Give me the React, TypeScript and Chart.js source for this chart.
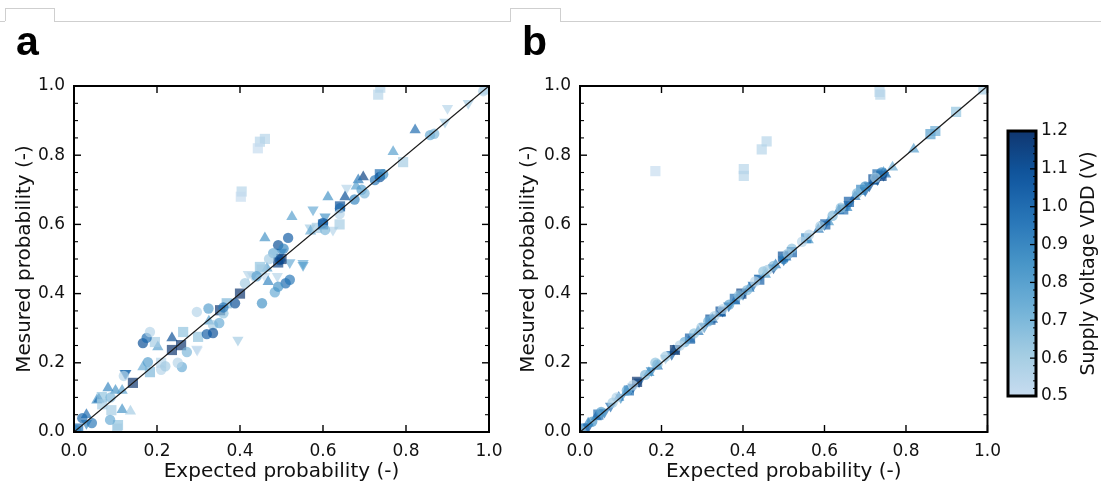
import { useEffect, useRef } from 'react';
import { Chart, registerables } from 'chart.js';
Chart.register(...registerables);

// ---------- data ----------
// each point: [expected probability, measured probability, supply voltage VDD]
const aCircles = [
  [0.986, 0.985, 0.55], [0.858, 0.858, 0.75], [0.868, 0.862, 0.7], [0.737, 0.737, 1.1],
  [0.725, 0.728, 0.95], [0.745, 0.745, 0.85], [0.693, 0.7, 0.8], [0.676, 0.672, 0.9],
  [0.641, 0.647, 1.0], [0.6, 0.604, 1.05], [0.605, 0.584, 0.7], [0.516, 0.561, 1.05],
  [0.492, 0.54, 1.1], [0.48, 0.517, 0.75], [0.496, 0.497, 1.1], [0.51, 0.43, 1.0],
  [0.52, 0.44, 0.95], [0.484, 0.404, 0.75], [0.492, 0.42, 0.85], [0.453, 0.372, 0.85],
  [0.412, 0.43, 0.6], [0.388, 0.372, 1.1], [0.324, 0.357, 0.8], [0.296, 0.347, 0.55],
  [0.36, 0.343, 0.65], [0.335, 0.309, 0.6], [0.35, 0.315, 0.75], [0.335, 0.286, 1.1],
  [0.32, 0.283, 1.05], [0.272, 0.231, 0.7], [0.166, 0.257, 1.1], [0.175, 0.272, 1.0],
  [0.183, 0.289, 0.55], [0.178, 0.202, 0.8], [0.21, 0.18, 0.55], [0.22, 0.19, 0.6],
  [0.26, 0.188, 0.75], [0.25, 0.2, 0.55], [0.12, 0.162, 0.55], [0.087, 0.035, 0.75],
  [0.043, 0.026, 0.95], [0.02, 0.04, 1.0], [0.088, 0.1, 0.7], [0.005, 0.005, 0.9],
  [0.36, 0.36, 0.95], [0.44, 0.45, 0.8], [0.47, 0.5, 0.6], [0.505, 0.53, 0.9],
  [0.7, 0.69, 0.7], [0.64, 0.63, 0.55],
];
const aSquares = [
  [0.733, 0.975, 0.55], [0.738, 0.995, 0.55], [0.448, 0.839, 0.55], [0.46, 0.847, 0.55],
  [0.443, 0.82, 0.5], [0.404, 0.695, 0.55], [0.402, 0.68, 0.5], [0.99, 0.99, 0.6],
  [0.793, 0.78, 0.6], [0.737, 0.745, 1.0], [0.641, 0.652, 1.1], [0.64, 0.6, 0.6],
  [0.585, 0.59, 0.6], [0.448, 0.477, 0.65], [0.452, 0.47, 0.6], [0.492, 0.49, 1.15],
  [0.5, 0.5, 1.2], [0.4, 0.4, 1.2], [0.368, 0.372, 0.7], [0.352, 0.352, 1.2],
  [0.299, 0.275, 0.65], [0.263, 0.289, 0.65], [0.258, 0.251, 1.2], [0.236, 0.237, 1.2],
  [0.195, 0.26, 0.6], [0.183, 0.173, 0.7], [0.21, 0.2, 0.55], [0.142, 0.142, 1.2],
  [0.067, 0.101, 0.65], [0.09, 0.063, 0.6], [0.068, 0.08, 0.6], [0.106, 0.02, 0.65],
  [0.104, 0.01, 0.6], [0.01, 0.01, 1.0], [0.6, 0.6, 1.0],
];
const aTriUp = [
  [0.822, 0.873, 1.0], [0.769, 0.81, 0.8], [0.697, 0.737, 1.15], [0.685, 0.728, 0.95],
  [0.68, 0.71, 0.8], [0.653, 0.679, 1.1], [0.612, 0.679, 0.85], [0.525, 0.622, 0.8],
  [0.46, 0.561, 0.85], [0.465, 0.473, 0.8], [0.468, 0.434, 0.9], [0.236, 0.272, 1.1],
  [0.202, 0.246, 0.8], [0.166, 0.188, 0.75], [0.082, 0.127, 0.9], [0.1, 0.12, 0.85],
  [0.116, 0.12, 0.8], [0.055, 0.092, 0.85], [0.06, 0.095, 1.0], [0.116, 0.064, 0.85],
  [0.136, 0.06, 0.6], [0.03, 0.05, 1.0], [0.325, 0.32, 0.8], [0.57, 0.58, 0.75],
];
const aTriDown = [
  [0.9, 0.936, 0.55], [0.95, 0.95, 0.6], [0.894, 0.896, 0.6], [0.657, 0.705, 0.55],
  [0.576, 0.642, 0.75], [0.605, 0.622, 0.85], [0.624, 0.584, 0.55], [0.569, 0.59, 0.6],
  [0.552, 0.488, 0.75], [0.552, 0.482, 0.8], [0.42, 0.456, 0.55], [0.43, 0.452, 0.55],
  [0.46, 0.45, 0.5], [0.49, 0.45, 0.55], [0.395, 0.266, 0.6], [0.296, 0.24, 0.55],
  [0.297, 0.237, 0.5], [0.125, 0.17, 1.05], [0.123, 0.17, 0.95], [0.5, 0.52, 0.9],
  [0.52, 0.49, 0.75], [0.03, 0.025, 0.9],
];

const bSquares = [
  [0.735, 0.983, 0.55], [0.737, 0.975, 0.55], [0.185, 0.754, 0.5], [0.402, 0.76, 0.55],
  [0.402, 0.74, 0.55], [0.446, 0.817, 0.55], [0.458, 0.84, 0.55], [0.923, 0.925, 0.65],
  [0.86, 0.861, 0.8], [0.872, 0.87, 0.75], [0.99, 0.99, 0.6], [0.73, 0.745, 1.0],
  [0.602, 0.6, 1.05], [0.498, 0.507, 1.1], [0.396, 0.4, 1.15], [0.345, 0.348, 1.1],
  [0.233, 0.237, 1.2], [0.14, 0.145, 1.2], [0.646, 0.643, 1.0], [0.69, 0.7, 0.9],
  [0.01, 0.01, 0.95], [0.045, 0.05, 1.0], [0.12, 0.12, 1.0], [0.27, 0.27, 1.05],
  [0.32, 0.325, 1.1], [0.38, 0.385, 1.0], [0.44, 0.44, 1.05], [0.52, 0.52, 1.05],
  [0.555, 0.56, 0.9], [0.66, 0.665, 1.05], [0.72, 0.73, 1.1], [0.74, 0.74, 1.15],
];
const bCircles = [
  [0.45, 0.464, 0.65], [0.46, 0.468, 0.6], [0.41, 0.41, 0.7], [0.366, 0.368, 0.8],
  [0.298, 0.302, 0.6], [0.257, 0.26, 0.75], [0.185, 0.2, 0.65], [0.19, 0.195, 0.7],
  [0.09, 0.1, 0.55], [0.052, 0.058, 0.8], [0.562, 0.57, 0.55], [0.52, 0.53, 0.65],
  [0.74, 0.75, 0.9], [0.7, 0.71, 0.85], [0.33, 0.335, 0.6], [0.5, 0.5, 0.9],
  [0.62, 0.625, 0.7], [0.03, 0.03, 0.85], [0.115, 0.12, 0.75], [0.21, 0.218, 0.6],
  [0.08, 0.085, 0.6], [0.13, 0.135, 0.55], [0.16, 0.165, 0.7], [0.245, 0.25, 0.55],
  [0.28, 0.285, 0.65], [0.315, 0.32, 0.75], [0.35, 0.355, 0.55], [0.39, 0.395, 0.65],
  [0.43, 0.435, 0.55], [0.475, 0.48, 0.7], [0.51, 0.515, 0.6], [0.545, 0.55, 0.55],
  [0.59, 0.595, 0.6], [0.64, 0.648, 0.65], [0.68, 0.69, 0.7], [0.725, 0.735, 0.6],
  [0.0, 0.005, 0.7],
];
const bTriUp = [
  [0.819, 0.817, 0.8], [0.767, 0.765, 0.75], [0.72, 0.725, 0.95], [0.655, 0.648, 0.9],
  [0.61, 0.607, 0.85], [0.48, 0.483, 0.95], [0.325, 0.325, 1.05], [0.169, 0.171, 0.85],
  [0.115, 0.118, 0.9], [0.04, 0.043, 1.0], [0.38, 0.378, 0.9], [0.56, 0.555, 0.85],
  [0.27, 0.268, 0.8], [0.02, 0.025, 0.9], [0.095, 0.1, 0.95], [0.19, 0.19, 1.0],
  [0.23, 0.235, 0.85], [0.29, 0.29, 0.95], [0.345, 0.345, 0.9], [0.415, 0.415, 0.95],
  [0.455, 0.455, 0.85], [0.505, 0.505, 1.0], [0.585, 0.585, 0.95], [0.635, 0.64, 1.0],
  [0.675, 0.68, 0.95], [0.745, 0.75, 0.85], [0.75, 0.745, 1.0],
];
const bTriDown = [
  [0.745, 0.742, 1.0], [0.7, 0.698, 1.05], [0.5, 0.498, 1.05], [0.4, 0.398, 1.0],
  [0.35, 0.35, 1.0], [0.24, 0.242, 0.95], [0.145, 0.145, 1.0], [0.06, 0.058, 0.95],
  [0.21, 0.214, 0.6], [0.66, 0.658, 0.85], [0.44, 0.445, 0.75], [0.02, 0.015, 1.1],
  [0.075, 0.075, 1.0], [0.1, 0.1, 0.85], [0.13, 0.13, 1.1], [0.175, 0.178, 0.9],
  [0.225, 0.225, 1.05], [0.305, 0.305, 1.0], [0.365, 0.365, 1.05], [0.425, 0.425, 1.0],
  [0.475, 0.475, 1.1], [0.515, 0.515, 1.0], [0.6, 0.6, 0.95], [0.71, 0.712, 1.1],
  [0.73, 0.73, 1.15],
];

const diagonal = [{ x: 0, y: 0 }, { x: 1, y: 1 }];
const axisTicks = [0, 0.2, 0.4, 0.6, 0.8, 1.0];
const yMinorTicks = [0.05, 0.1, 0.15, 0.25, 0.3, 0.35, 0.45, 0.5, 0.55, 0.65, 0.7, 0.75, 0.85, 0.9, 0.95];
const colorbarTicks = [0.5, 0.6, 0.7, 0.8, 0.9, 1.0, 1.1, 1.2];
const colorbarMinor = [
  0.52, 0.54, 0.56, 0.58, 0.62, 0.64, 0.66, 0.68, 0.72, 0.74, 0.76, 0.78,
  0.82, 0.84, 0.86, 0.88, 0.92, 0.94, 0.96, 0.98, 1.02, 1.04, 1.06, 1.08,
  1.12, 1.14, 1.16, 1.18,
];
const vMin = 0.5;
const vMax = 1.2;

// matplotlib "Blues"
const bluesStops = ['#f7fbff', '#deebf7', '#c6dbef', '#9ecae1', '#6baed6', '#4292c6', '#2171b5', '#08519c', '#08306b'];

function hexToRgb(h: string) {
  return [parseInt(h.slice(1, 3), 16), parseInt(h.slice(3, 5), 16), parseInt(h.slice(5, 7), 16)];
}
function cmap(v: number, alpha: number) {
  let f = (v - vMin) / (vMax - vMin);
  f = Math.max(0, Math.min(1, f));
  const t = 0.25 + 0.75 * f;
  const pos = t * (bluesStops.length - 1);
  const i = Math.min(bluesStops.length - 2, Math.floor(pos));
  const r = pos - i;
  const a = hexToRgb(bluesStops[i]);
  const b = hexToRgb(bluesStops[i + 1]);
  const c = a.map((ch, k) => Math.round(ch + (b[k] - ch) * r));
  return `rgba(${c[0]},${c[1]},${c[2]},${alpha})`;
}

const FONT = "'DejaVu Sans', sans-serif";
const TEXT = '#111';
const ALPHA = 0.68;

function shapeDataset(pts: number[][], pointStyle: string, radius: number, rotation = 0) {
  const colors = pts.map((p) => cmap(p[2], ALPHA));
  return {
    data: pts.map((p) => ({ x: p[0], y: p[1] })),
    pointStyle,
    pointRotation: rotation,
    pointRadius: radius,
    pointBackgroundColor: colors,
    pointBorderColor: colors,
    pointBorderWidth: 0,
    showLine: false,
    order: 1,
  };
}

function framePlugin(label: string, labelX: number) {
  return {
    id: 'frame' + label,
    afterDraw(chart: any) {
      const { ctx, chartArea } = chart;
      const { left, right, top, bottom } = chartArea;
      const xs = chart.scales.x;
      const ys = chart.scales.y;
      ctx.save();
      ctx.strokeStyle = '#000';
      ctx.lineWidth = 1.4;
      const seg = (x1: number, y1: number, x2: number, y2: number) => {
        ctx.beginPath();
        ctx.moveTo(x1, y1);
        ctx.lineTo(x2, y2);
        ctx.stroke();
      };
      for (const v of axisTicks) {
        const px = xs.getPixelForValue(v);
        seg(px, bottom, px, bottom - 7);
        seg(px, top, px, top + 7);
        const py = ys.getPixelForValue(v);
        seg(left, py, left + 7, py);
        seg(right, py, right - 7, py);
      }
      ctx.lineWidth = 1.1;
      for (const v of yMinorTicks) {
        const py = ys.getPixelForValue(v);
        seg(left, py, left + 4, py);
        seg(right, py, right - 4, py);
      }
      ctx.lineWidth = 2;
      ctx.strokeRect(left, top, right - left, bottom - top);
      ctx.fillStyle = '#000';
      ctx.font = "bold 41px 'Liberation Sans', Arial, sans-serif";
      ctx.textBaseline = 'alphabetic';
      ctx.textAlign = 'left';
      ctx.fillText(label, labelX, 55);
      ctx.restore();
    },
  };
}

function makeScatter(canvas: HTMLCanvasElement, sets: number[][][], yAxisWidth: number, titlePad: number, padRight: number, label: string, labelX: number) {
  const [circles, squares, triUp, triDown] = sets;
  return new Chart(canvas, {
    type: 'scatter',
    data: {
      datasets: [
        shapeDataset(circles, 'circle', 5.2),
        shapeDataset(squares, 'rect', 7.2),
        shapeDataset(triUp, 'triangle', 6.5),
        shapeDataset(triDown, 'triangle', 6.5, 180),
        {
          data: diagonal,
          showLine: true,
          borderColor: '#1a1a1a',
          borderWidth: 1.3,
          pointRadius: 0,
          order: 0,
        },
      ] as any,
    },
    options: {
      responsive: false,
      animation: false,
      events: [],
      layout: { padding: { left: 0, right: padRight, top: 86, bottom: 0 } },
      plugins: { legend: { display: false }, tooltip: { enabled: false } },
      scales: {
        x: {
          type: 'linear',
          min: 0,
          max: 1,
          afterFit: (s: any) => { s.height = 55; },
          afterBuildTicks: (s: any) => { s.ticks = axisTicks.map((v) => ({ value: v })); },
          ticks: {
            callback: (v: any) => Number(v).toFixed(1),
            font: { family: FONT, size: 17 },
            color: TEXT,
            padding: 9,
            maxRotation: 0,
            autoSkip: false,
          },
          grid: { display: false, drawTicks: false },
          border: { display: false },
          title: {
            display: true,
            text: 'Expected probability (-)',
            font: { family: FONT, size: 20 },
            color: TEXT,
            padding: { top: 0, bottom: 3 },
          },
        },
        y: {
          type: 'linear',
          min: 0,
          max: 1,
          afterFit: (s: any) => { s.width = yAxisWidth; },
          afterBuildTicks: (s: any) => { s.ticks = axisTicks.map((v) => ({ value: v })); },
          ticks: {
            callback: (v: any) => Number(v).toFixed(1),
            font: { family: FONT, size: 17 },
            color: TEXT,
            padding: 9,
            autoSkip: false,
          },
          grid: { display: false, drawTicks: false },
          border: { display: false },
          title: {
            display: true,
            text: 'Mesured probability (-)',
            font: { family: FONT, size: 20 },
            color: TEXT,
            padding: { top: titlePad, bottom: 0 },
          },
        },
      },
    } as any,
    plugins: [framePlugin(label, labelX)],
  });
}

const colorbarPlugin = {
  id: 'colorbarFrame',
  afterDraw(chart: any) {
    const { ctx, chartArea } = chart;
    const { left, right, top, bottom } = chartArea;
    const ys = chart.scales.y;
    ctx.save();
    ctx.strokeStyle = '#000';
    ctx.lineWidth = 1.3;
    const seg = (x1: number, y1: number, x2: number, y2: number) => {
      ctx.beginPath();
      ctx.moveTo(x1, y1);
      ctx.lineTo(x2, y2);
      ctx.stroke();
    };
    for (const v of colorbarTicks) {
      const py = ys.getPixelForValue(v);
      seg(right, py, right - 6, py);
    }
    ctx.lineWidth = 1;
    for (const v of colorbarMinor) {
      const py = ys.getPixelForValue(v);
      seg(right, py, right - 3, py);
    }
    ctx.lineWidth = 3;
    ctx.strokeRect(left, top, right - left, bottom - top);
    ctx.translate(94, (top + bottom) / 2);
    ctx.rotate(-Math.PI / 2);
    ctx.fillStyle = TEXT;
    ctx.font = `19px ${FONT}`;
    ctx.textAlign = 'center';
    ctx.textBaseline = 'middle';
    ctx.fillText('Supply Voltage VDD (V)', 0, 0);
    ctx.restore();
  },
};

function makeColorbar(canvas: HTMLCanvasElement) {
  return new Chart(canvas, {
    type: 'bar',
    data: {
      labels: [''],
      datasets: [
        {
          data: [[vMin, vMax]],
          backgroundColor: (c: any) => {
            const ch = c.chart;
            const a = ch.chartArea;
            if (!a) return cmap(0.85, 1);
            const g = ch.ctx.createLinearGradient(0, a.bottom, 0, a.top);
            const n = 20;
            for (let i = 0; i <= n; i++) {
              g.addColorStop(i / n, cmap(vMin + ((vMax - vMin) * i) / n, 0.97));
            }
            return g;
          },
          borderWidth: 0,
          categoryPercentage: 1,
          barPercentage: 1,
        },
      ] as any,
    },
    options: {
      responsive: false,
      animation: false,
      events: [],
      layout: { padding: { left: 13, right: 0, top: 131, bottom: 91 } },
      plugins: { legend: { display: false }, tooltip: { enabled: false } },
      scales: {
        x: { display: false },
        y: {
          position: 'right',
          min: vMin,
          max: vMax,
          afterFit: (s: any) => { s.width = 65; },
          afterBuildTicks: (s: any) => { s.ticks = colorbarTicks.map((v) => ({ value: v })); },
          ticks: {
            callback: (v: any) => Number(v).toFixed(1),
            font: { family: FONT, size: 17 },
            color: TEXT,
            padding: 5,
            autoSkip: false,
          },
          grid: { display: false, drawTicks: false },
          border: { display: false },
        },
      },
    } as any,
    plugins: [colorbarPlugin],
  });
}

const lineColor = '#cfcfcf';

export default function App() {
  const refA = useRef<HTMLCanvasElement>(null);
  const refB = useRef<HTMLCanvasElement>(null);
  const refC = useRef<HTMLCanvasElement>(null);

  useEffect(() => {
    document.body.style.margin = '0';
    const a = makeScatter(refA.current!, [aCircles, aSquares, aTriUp, aTriDown], 74, 13, 31, 'a', 16);
    const b = makeScatter(refB.current!, [bCircles, bSquares, bTriUp, bTriDown], 80, 17, 15, 'b', 22);
    const c = makeColorbar(refC.current!);
    return () => {
      a.destroy();
      b.destroy();
      c.destroy();
    };
  }, []);

  const hline = (left: number, width: number) => (
    <div style={{ position: 'absolute', left, top: 21, width, height: 1, background: lineColor }} />
  );
  const tab = (left: number, width: number) => (
    <div
      style={{
        position: 'absolute',
        left,
        top: 8,
        width,
        height: 13,
        borderTop: `1px solid ${lineColor}`,
        borderLeft: `1px solid ${lineColor}`,
        borderRight: `1px solid ${lineColor}`,
        boxSizing: 'border-box',
      }}
    />
  );

  return (
    <div style={{ position: 'relative', width: 1101, height: 487, overflow: 'hidden', background: '#fff' }}>
      {hline(0, 5)}
      {tab(5, 50)}
      {hline(54, 457)}
      {tab(510, 51)}
      {hline(560, 541)}
      <canvas ref={refA} width={520} height={487} style={{ position: 'absolute', left: 0, top: 0 }} />
      <canvas ref={refB} width={510} height={487} style={{ position: 'absolute', left: 500, top: 0 }} />
      <canvas ref={refC} width={106} height={487} style={{ position: 'absolute', left: 995, top: 0 }} />
    </div>
  );
}
